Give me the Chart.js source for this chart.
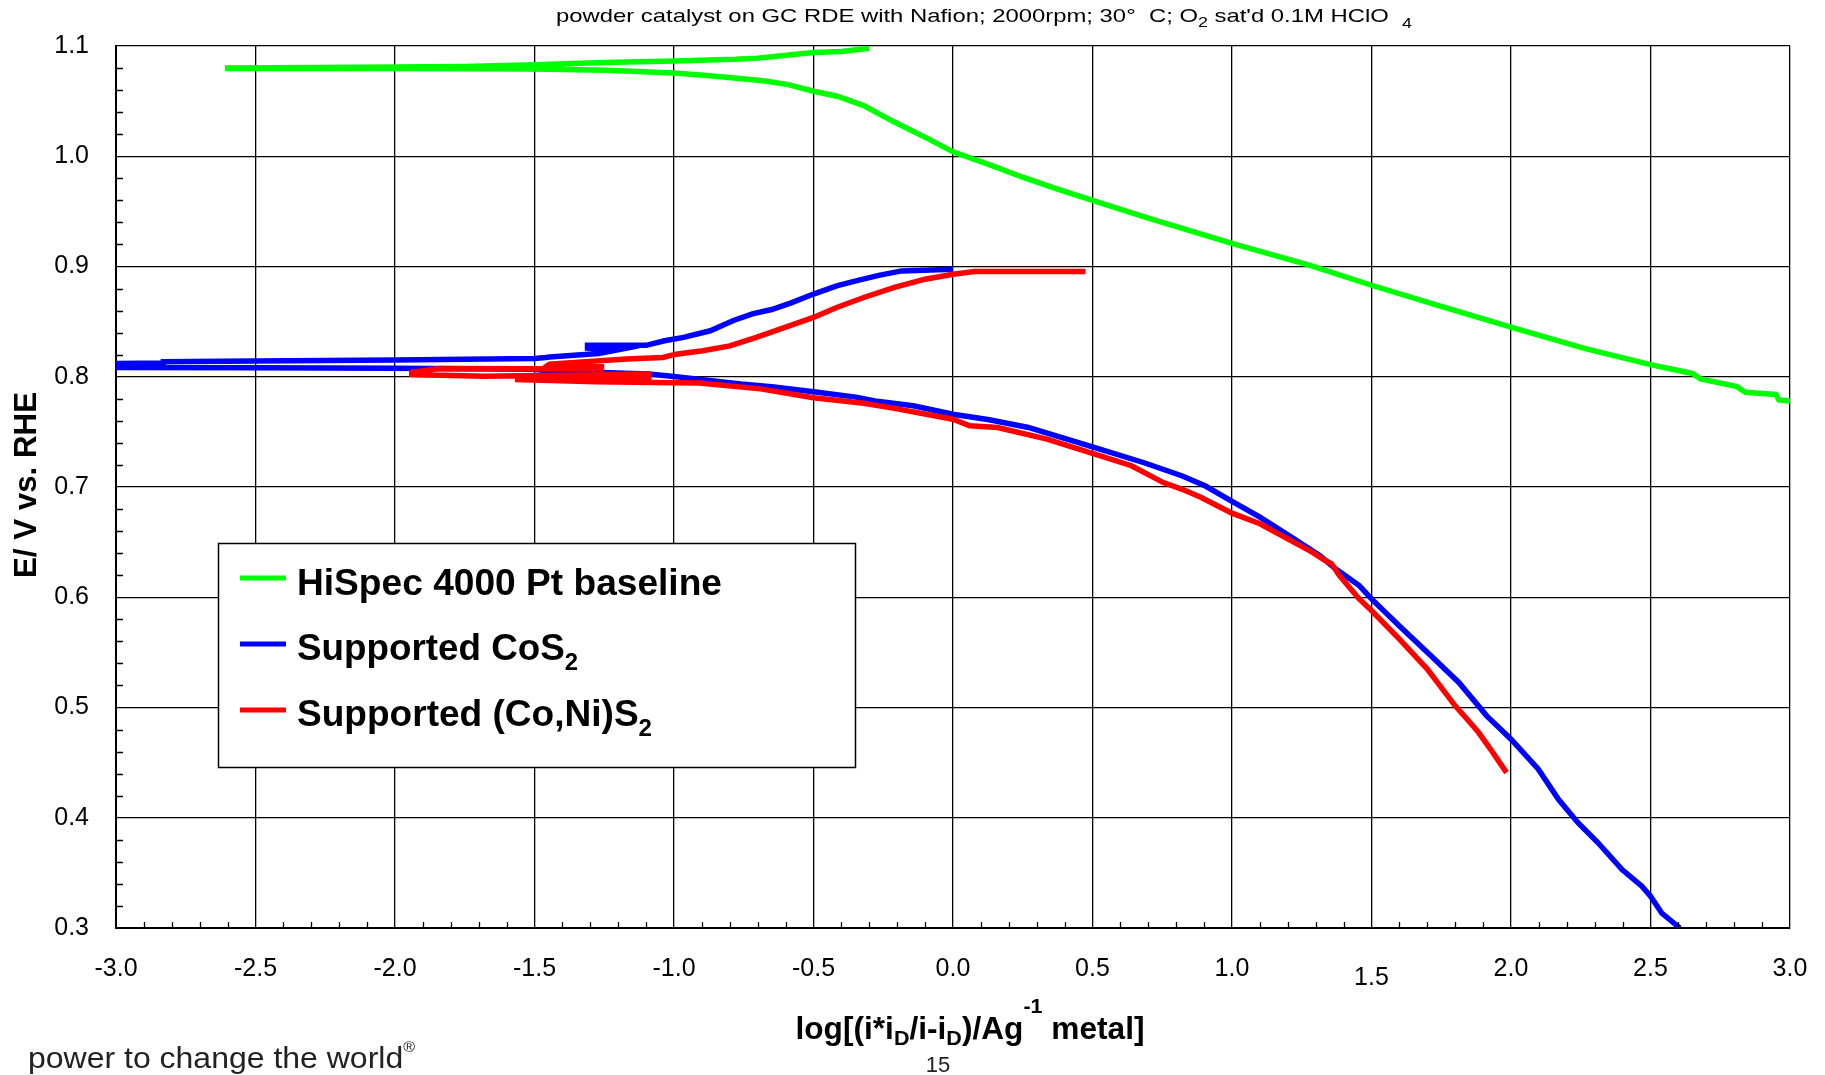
<!DOCTYPE html>
<html>
<head>
<meta charset="utf-8">
<script src="https://cdn.jsdelivr.net/npm/chart.js@4.4.1/dist/chart.umd.min.js"></script>
<style>
  body { margin: 0; background: #fff; }
  canvas { display: block; }
</style>
</head>
<body>
<canvas id="myChart" width="1825" height="1075"></canvas>
<script>
// E vs log(kinetic current) curves
const greenX = [-0.30, -0.40, -0.50, -0.58, -0.64, -0.70, -0.78, -1.0, -1.25, -1.5, -1.75, -2.0, -2.3, -2.60,
  -2.60, -2.0, -1.5, -1.24, -1.0, -0.87, -0.68, -0.59, -0.50, -0.415, -0.32, -0.21, -0.09, 0.0, 0.135, 0.25,
  0.364, 0.5, 0.706, 1.0, 1.28, 1.5, 1.735, 2.0, 2.26, 2.5, 2.65, 2.68, 2.81, 2.84, 2.95, 2.96, 3.0];
const greenE = [1.098, 1.095, 1.094, 1.092, 1.0905, 1.089, 1.088, 1.0865, 1.085, 1.083, 1.0815, 1.081, 1.0805, 1.080,
  1.0795, 1.0795, 1.0792, 1.078, 1.0756, 1.073, 1.0685, 1.065, 1.059, 1.0544, 1.046, 1.031, 1.016, 1.004, 0.992, 0.981,
  0.971, 0.960, 0.9435, 0.921, 0.901, 0.883, 0.865, 0.845, 0.826, 0.811, 0.803, 0.798, 0.791, 0.786, 0.784, 0.779, 0.778];

const blueX = [0.0, -0.184, -0.266, -0.348, -0.417, -0.5, -0.58, -0.65, -0.719, -0.787, -0.87, -0.966, -1.034, -1.10,
  -1.31, -1.31, -1.20, -1.27, -1.446, -1.46, -1.5, -2.0, -2.5, -2.83, -2.83, -3.0,
  -3.0, -2.5, -2.0, -1.5, -1.46, -1.09, -1.0, -0.897, -0.76, -0.65, -0.5, -0.348, -0.28, -0.143, 0.0, 0.13, 0.27,
  0.5, 0.685, 0.822, 0.905, 1.0, 1.1, 1.2, 1.314, 1.371, 1.456, 1.5, 1.6, 1.713, 1.813, 1.913, 2.0, 2.098, 2.17,
  2.24, 2.312, 2.398, 2.469, 2.5, 2.54, 2.598, 2.605];
const blueE = [0.8976, 0.896, 0.892, 0.887, 0.8825, 0.875, 0.867, 0.861, 0.857, 0.851, 0.8417, 0.8357, 0.8326, 0.8285,
  0.8285, 0.826, 0.8245, 0.821, 0.818, 0.8175, 0.8166, 0.8152, 0.8142, 0.8136, 0.8125, 0.812,
  0.8085, 0.8082, 0.8078, 0.8068, 0.8055, 0.8024, 0.8003, 0.7973, 0.7934, 0.791, 0.7864, 0.7815, 0.778, 0.7737, 0.766, 0.761, 0.754,
  0.7365, 0.722, 0.710, 0.7009, 0.687, 0.6727, 0.6567, 0.6379, 0.6258, 0.6106, 0.5985, 0.574, 0.547, 0.5227, 0.4924, 0.4712, 0.444, 0.4167,
  0.3955, 0.3773, 0.353, 0.3379, 0.3288, 0.3136, 0.3015, 0.300];

const redX = [0.475, 0.077, 0.0, -0.1, -0.21, -0.32, -0.417, -0.5, -0.623, -0.705, -0.80, -0.897, -0.993, -1.04, -1.17,
  -1.446, -1.46, -1.26, -1.26, -1.84, -1.94,
  -1.94, -1.68, -1.09, -1.09, -1.57, -1.28, -1.0, -0.91, -0.69, -0.5, -0.32, -0.21, 0.0, 0.06, 0.16, 0.337, 0.5, 0.64,
  0.754, 0.822, 0.89, 1.0, 1.1, 1.2, 1.289, 1.33, 1.357, 1.385, 1.456, 1.5, 1.6, 1.7, 1.8, 1.85, 1.884, 1.927, 1.984];
const redE = [0.8955, 0.8955, 0.893, 0.8885, 0.881, 0.8719, 0.8628, 0.8538, 0.843, 0.8357, 0.828, 0.8236, 0.8205, 0.8175, 0.816,
  0.8115, 0.809, 0.809, 0.807, 0.8075, 0.804,
  0.802, 0.8005, 0.8025, 0.799, 0.7975, 0.7955, 0.7945, 0.7943, 0.789, 0.781, 0.776, 0.7713, 0.7615, 0.7556, 0.754, 0.7435, 0.7305, 0.7193,
  0.704, 0.6979, 0.6904, 0.6763, 0.6667, 0.653, 0.6407, 0.634, 0.6303, 0.6197, 0.5985, 0.588, 0.562, 0.5348, 0.5015, 0.4873, 0.4773, 0.4621, 0.4409];

const seriesNames = ['HiSpec 4000 Pt baseline', 'Supported CoS', 'Supported (Co,Ni)S'];
const seriesColors = ['#00ff00', '#0000ff', '#ff0000'];

const FONT = '"Liberation Sans", Arial, sans-serif';

function pts(xs, ys) {
  return xs.map((x, i) => ({ x: x, y: ys[i] }));
}

// draws text made of pieces (normal / sub / sup), optionally squeezed to a width
function richText(ctx, parts, x, y, size, weight, align, fitW, color) {
  let w = 0;
  parts.forEach(p => {
    p.sz = p.sz || 1;
    ctx.font = `${weight} ${size * p.sz}px ${FONT}`;
    p.w = ctx.measureText(p.t).width;
    w += p.w;
  });
  let sx = fitW ? fitW / w : 1;
  let x0 = align === 'center' ? x - w * sx / 2 : x;
  ctx.save();
  ctx.fillStyle = color || '#000';
  ctx.textBaseline = 'alphabetic';
  ctx.textAlign = 'left';
  ctx.translate(x0, y);
  ctx.scale(sx, 1);
  let cx = 0;
  parts.forEach(p => {
    ctx.font = `${weight} ${size * p.sz}px ${FONT}`;
    ctx.fillText(p.t, cx, (p.dy || 0) * size);
    cx += p.w;
  });
  ctx.restore();
}

const extras = {
  id: 'extras',
  beforeDraw(chart) {
    const c = chart.ctx;
    c.save();
    c.fillStyle = '#fff';
    c.fillRect(0, 0, chart.width, chart.height);
    c.restore();
  },
  afterDraw(chart) {
    const c = chart.ctx;
    const xs = chart.scales.x, ys = chart.scales.y;
    const a = chart.chartArea;

    // minor ticks
    c.save();
    c.strokeStyle = '#000';
    c.lineWidth = 1.3;
    c.beginPath();
    for (let k = 15; k <= 55; k++) {
      if (k % 5 === 0) continue;
      const py = Math.round(ys.getPixelForValue(k / 50)) + 0.5;
      c.moveTo(a.left, py); c.lineTo(a.left + 7, py);
    }
    for (let k = -30; k <= 30; k++) {
      if (k % 5 === 0) continue;
      const px = Math.round(xs.getPixelForValue(k / 10)) + 0.5;
      c.moveTo(px, a.bottom); c.lineTo(px, a.bottom - 6);
    }
    c.stroke();
    c.restore();

    // title
    richText(c, [
      { t: 'powder catalyst on GC RDE with Nafion; 2000rpm; 30°  C; O' },
      { t: '2', sz: 0.75, dy: 0.25 },
      { t: " sat'd 0.1M HClO  " },
      { t: '4', sz: 0.75, dy: 0.3 }
    ], 556, 22, 19, 'normal', 'left', 856);

    // y title
    c.save();
    c.translate(36, 485);
    c.rotate(-Math.PI / 2);
    richText(c, [{ t: 'E/ V vs. RHE' }], 0, 0, 31, 'bold', 'center', 186);
    c.restore();

    // x title
    richText(c, [
      { t: 'log[(i*i' },
      { t: 'D', sz: 0.68, dy: 0.18 },
      { t: '/i-i' },
      { t: 'D', sz: 0.68, dy: 0.18 },
      { t: ')/Ag' },
      { t: '-1', sz: 0.68, dy: -0.85 },
      { t: ' metal]' }
    ], 970, 1039, 31, 'bold', 'center', 349);

    // legend
    const lx = 218, ly = 543, lw = 637, lh = 224;
    c.save();
    c.fillStyle = '#fff';
    c.fillRect(lx, ly, lw, lh);
    c.strokeStyle = '#000';
    c.lineWidth = 1.5;
    c.strokeRect(lx + 0.5, ly + 0.5, lw, lh);
    c.restore();
    const lineY = [578, 644, 710];
    const baseY = [595, 660, 726];
    const fitW = [425, 281, 355];
    seriesNames.forEach((name, i) => {
      c.save();
      c.strokeStyle = seriesColors[i];
      c.lineWidth = 5;
      c.beginPath();
      c.moveTo(240, lineY[i]); c.lineTo(286, lineY[i]);
      c.stroke();
      c.restore();
      const parts = [{ t: name }];
      if (i > 0) parts.push({ t: '2', sz: 0.65, dy: 0.27 });
      richText(c, parts, 297, baseY[i], 37, 'bold', 'left', fitW[i]);
    });

    // footer
    richText(c, [{ t: 'power to change the world' }, { t: '®', sz: 0.5, dy: -0.55 }],
      28, 1068, 30, 'normal', 'left', 387, '#222');
    richText(c, [{ t: '15' }], 938, 1072, 22, 'normal', 'center', null, '#222');
  }
};

const ctx = document.getElementById('myChart').getContext('2d');
const myChart = new Chart(ctx, {
  type: 'scatter',
  data: {
    datasets: [
      { label: seriesNames[0], data: pts(greenX, greenE), borderColor: seriesColors[0], order: 2 },
      { label: seriesNames[1], data: pts(blueX, blueE), borderColor: seriesColors[1], order: 1 },
      { label: seriesNames[2], data: pts(redX, redE), borderColor: seriesColors[2], order: 0 }
    ]
  },
  options: {
    responsive: false,
    animation: false,
    showLine: true,
    elements: {
      point: { radius: 0, hoverRadius: 0 },
      line: { borderWidth: 5.5, tension: 0, fill: false }
    },
    layout: { padding: { top: 46, right: 35, left: 0, bottom: 0 } },
    plugins: { legend: { display: false }, tooltip: { enabled: false } },
    scales: {
      x: {
        type: 'linear',
        min: -3, max: 3,
        afterFit: s => { s.height = 147; s.paddingRight = 0; s.paddingLeft = 0; },
        ticks: {
          stepSize: 0.5,
          autoSkip: false,
          maxRotation: 0,
          padding: 26,
          color: '#000',
          callback: v => v.toFixed(1),
          font: c => ({
            family: FONT, size: 25,
            lineHeight: (c.tick && Math.abs(c.tick.value - 1.5) < 1e-6) ? 1.92 : 1.2
          })
        },
        grid: { color: '#000', lineWidth: 1.3, drawTicks: false },
        border: { color: '#000', width: 2 }
      },
      y: {
        min: 0.3, max: 1.1,
        afterFit: s => { s.width = 116; },
        ticks: {
          stepSize: 0.1,
          padding: 27,
          color: '#000',
          callback: v => v.toFixed(1),
          font: { family: FONT, size: 25 }
        },
        grid: { color: '#000', lineWidth: 1.3, drawTicks: false },
        border: { color: '#000', width: 2 }
      }
    }
  },
  plugins: [extras]
});
</script>
</body>
</html>
